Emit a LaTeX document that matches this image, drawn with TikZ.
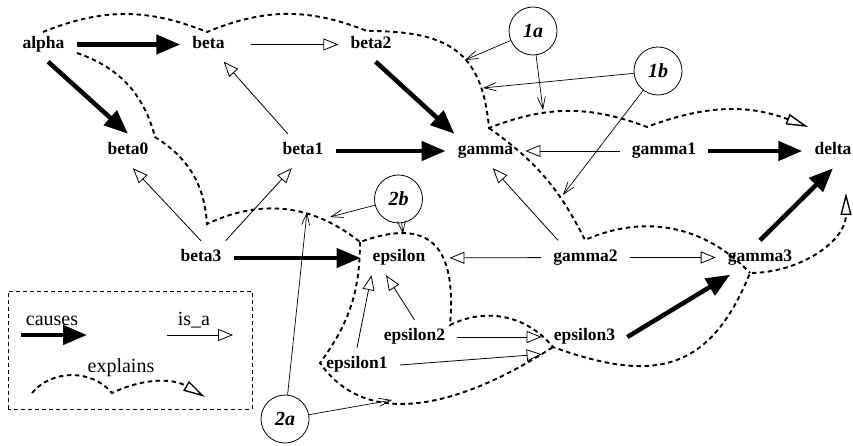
\documentclass[tikz,border=0pt]{standalone}
\usepackage{fontspec}
\setmainfont{Liberation Serif}
\usetikzlibrary{arrows.meta}
\tikzset{
  lbl/.style={font=\fontsize{17.5}{20}\selectfont\bfseries, inner xsep=12pt, inner ysep=9pt, text height=12pt, text depth=4pt},
  note/.style={circle, draw, line width=0.8pt, minimum size=48pt, inner sep=0pt, font=\fontsize{20}{24}\selectfont\bfseries\itshape},
  leg/.style={font=\fontsize{20}{24}\selectfont, inner sep=0pt, text height=14pt, text depth=3pt},
  causes/.style={line width=4.5pt, -{Triangle[length=24pt,width=19pt]}},
  isa/.style={line width=0.8pt, -{Triangle[open,length=15pt,width=12pt]}},
  explains/.style={line width=1.9pt, dash pattern=on 4.5pt off 3.5pt},
  xtip/.style={-{Triangle[open,length=22pt,width=11pt,line width=1.4pt]}},
  points/.style={line width=0.7pt, -{Straight Barb[length=12pt,width=8pt]}}
}
\begin{document}
\begin{tikzpicture}[x=10pt,y=10pt]
\useasboundingbox (0,0) rectangle (85.3,44.6);
\node[lbl] (alpha) at (4.35,40.15) {alpha};
\node[lbl] (beta) at (20.85,40.15) {beta};
\node[lbl] (beta2) at (37.1,40.15) {beta2};
\node[lbl] (beta0) at (12.8,29.5) {beta0};
\node[lbl] (beta1) at (30.3,29.5) {beta1};
\node[lbl] (gamma) at (48.55,29.5) {gamma};
\node[lbl] (gamma1) at (66.4,29.5) {gamma1};
\node[lbl] (delta) at (83.3,29.5) {delta};
\node[lbl] (beta3) at (20.1,18.8) {beta3};
\node[lbl] (epsilon) at (39.9,18.8) {epsilon};
\node[lbl] (gamma2) at (58.55,18.85) {gamma2};
\node[lbl] (gamma3) at (76.0,18.85) {gamma3};
\node[lbl] (epsilon2) at (41.45,10.9) {epsilon2};
\node[lbl] (epsilon3) at (58.45,10.9) {epsilon3};
\node[lbl] (epsilon1) at (35.7,8.1) {epsilon1};
\node[note] (n1a) at (53.3,41.5) {1a};
\node[note] (n1b) at (65.8,37.5) {1b};
\node[note] (n2b) at (39.85,24.7) {2b};
\node[note] (n2a) at (28.5,2.7) {2a};

\draw[causes] (alpha) -- (beta);
\draw[causes] (alpha.-75) -- (beta0.north);
\draw[causes] (beta2.-75) -- (gamma.151);
\draw[causes] (beta1) -- (gamma);
\draw[causes] (gamma1) -- (delta);
\draw[causes] (gamma3.north) -- (delta.south);
\draw[causes] (epsilon3.east) -- (gamma3.210);
\draw[causes] (beta3) -- (epsilon);

\draw[isa, shorten <=14pt] (beta) -- (beta2);
\draw[isa] (beta1) -- (beta);
\draw[isa] (beta3.north) -- (beta0.-74);
\draw[isa] (beta3.35) -- (beta1.-123);
\draw[isa] (gamma1) -- (gamma);
\draw[isa] (gamma2.148) -- (gamma.-67);
\draw[isa, shorten >=12pt] (gamma2) -- (epsilon);
\draw[isa] (gamma2) -- (gamma3);
\draw[isa] (epsilon1.north) -- (epsilon.212);
\draw[isa] (epsilon2.north) -- (epsilon.233);
\draw[isa] (epsilon2) -- (epsilon3);
\draw[isa] (epsilon1.east) -- (epsilon3.south west);

\coordinate (c1) at (4.3,41.4);
\coordinate (c2) at (20.7,41.4);
\coordinate (c3) at (36.7,41.5);
\coordinate (c4) at (48.9,31.8);
\coordinate (c5) at (64.7,31.9);
\coordinate (c6) at (80.8,31.9);
\coordinate (c7) at (58.5,20.6);
\coordinate (c8) at (75.0,17.3);
\coordinate (c9) at (55.3,9.9);
\coordinate (a0) at (7.7,39.3);
\coordinate (c10) at (15.5,30.9);
\coordinate (c11) at (20.7,22.2);
\coordinate (c12) at (36.0,20.4);
\coordinate (c13) at (45.0,12.1);
\coordinate (c14) at (32.0,8.3);
\coordinate (c15) at (84.6,25.3);
\draw[explains, xtip] (c1) to[bend left=22] (c2) to[bend left=22] (c3) to[out=0,in=95,looseness=1.3] (c4) to[bend left=21] (c5) to[bend left=21] (c6);
\draw[explains] (c4) to[bend left=14] (c7) to[bend left=35] (c8);
\draw[explains, xtip] (a0) to[bend left=28] (c10) to[bend left=27] (c11) to[bend left=32] (c12) to[out=20,in=85,looseness=1.6] (c13) to[bend left=38] (c9) to[out=-20,in=-112,looseness=1.3] (c8) to[out=0,in=-90] (c15);
\draw[explains] (c12) to[bend left=18] (c14) to[out=-55,in=-147] (c9);

\coordinate (t1) at (46.5,38.6);
\coordinate (t2) at (54.3,33.6);
\coordinate (t3) at (48.3,35.8);
\coordinate (t4) at (56.3,25.1);
\coordinate (t5) at (33.0,22.9);
\coordinate (t6) at (40.3,21.2);
\coordinate (t7) at (30.7,23.4);
\coordinate (t8) at (39.2,4.6);
\draw[points] (n1a) -- (t1);
\draw[points] (n1a) -- (t2);
\draw[points] (n1b) -- (t3);
\draw[points] (n1b) -- (t4);
\draw[points] (n2b) -- (t5);
\draw[points] (n2b) -- (t6);
\draw[points] (n2a) -- (t7);
\draw[points] (n2a) -- (t8);

\draw[line width=0.8pt, dash pattern=on 4pt off 3pt] (0.8,3.7) rectangle (25.2,15.5);
\node[leg] (lcauses) at (5.2,12.6) {causes};
\node[leg] (lisa) at (19.4,12.6) {is\_a};
\node[leg] (lexplains) at (12.1,7.9) {explains};
\coordinate (l1) at (2.1,11.1);
\coordinate (l2) at (8.7,11.1);
\coordinate (l3) at (16.7,11.1);
\coordinate (l4) at (23.3,11.1);
\coordinate (l5) at (3.2,5.3);
\coordinate (l6) at (11.2,5.3);
\coordinate (l7) at (20.5,4.9);
\draw[causes] (l1) -- (l2);
\draw[isa] (l3) -- (l4);
\draw[explains, xtip] (l5) to[bend left=50] (l6) to[bend left=28] (l7);
\end{tikzpicture}
\end{document}
